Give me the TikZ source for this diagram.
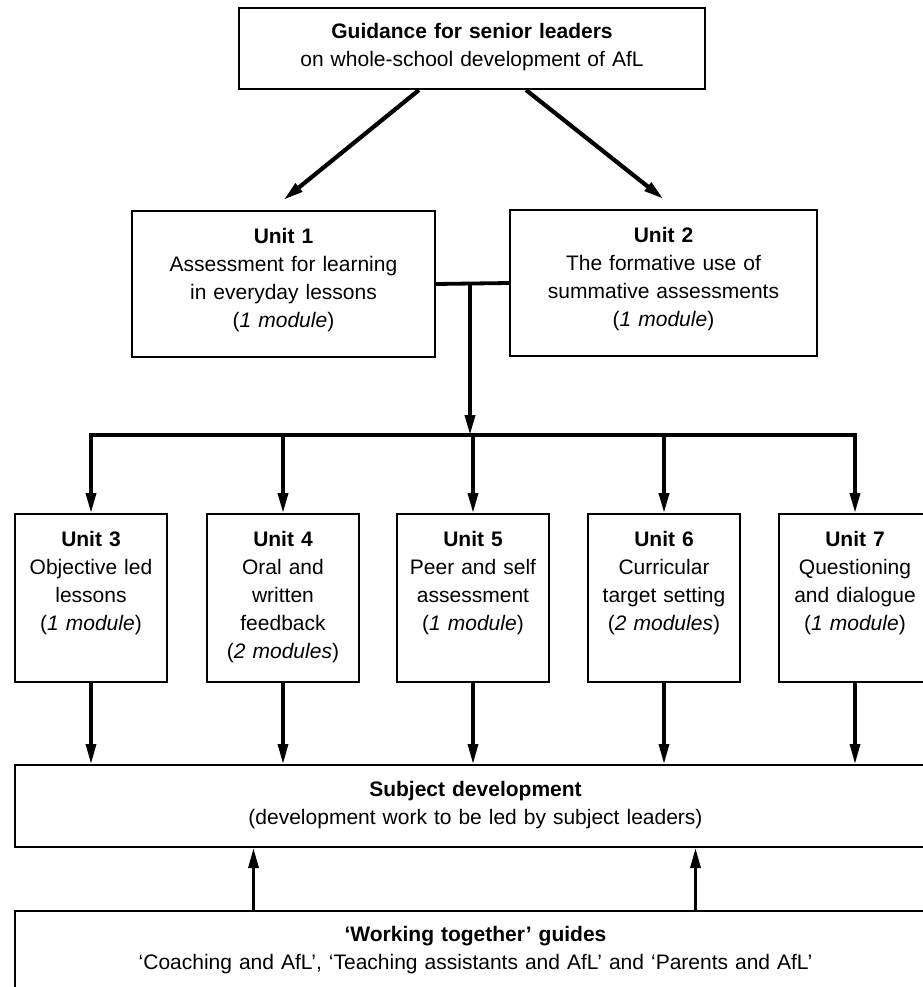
\documentclass[tikz,border=0pt]{standalone}
\usepackage{fontspec}
\setmainfont{Liberation Sans}
\usetikzlibrary{arrows.meta}

\begin{document}
\begin{tikzpicture}[x=1pt, y=-1pt,
    box_node/.style={draw, line width=2pt, inner sep=0pt, align=center, anchor=north west, font=\fontsize{21}{28}\selectfont},
    unit_node/.style={box_node, text width=152pt, text height=32pt, text depth=136pt},
    bus_line/.style={line width=3.8pt},
    main_arrow/.style={line width=3.6pt, -{Triangle[length=20pt,width=10pt]}}]

    \useasboundingbox (0,0) rectangle (922,987);

    \node[box_node, text width=466pt, text height=31pt, text depth=50pt] (g) at (238,7) {\textbf{Guidance for senior leaders}\\on whole-school development of AfL};

    \node[box_node, text width=303pt, text height=32pt, text depth=114pt] (u1) at (131,210) {\textbf{Unit 1}\\Assessment for learning\\in everyday lessons\\(\textit{1 module})};
    \node[box_node, text width=307pt, text height=32pt, text depth=114pt] (u2) at (509,209) {\textbf{Unit 2}\\The formative use of\\summative assessments\\(\textit{1 module})};

    \node[unit_node] (u3) at (14,513) {\textbf{Unit 3}\\Objective led\\lessons\\(\textit{1 module})};
    \node[unit_node] (u4) at (206,513) {\textbf{Unit 4}\\Oral and\\written\\feedback\\(\textit{2 modules})};
    \node[unit_node] (u5) at (396,513) {\textbf{Unit 5}\\Peer and self\\assessment\\(\textit{1 module})};
    \node[unit_node] (u6) at (587,513) {\textbf{Unit 6}\\Curricular\\target setting\\(\textit{2 modules})};
    \node[unit_node] (u7) at (778,513) {\textbf{Unit 7}\\Questioning\\and dialogue\\(\textit{1 module})};

    \node[box_node, text width=921pt, text height=31pt, text depth=51pt] (sd) at (14,764) {\textbf{Subject development}\\(development work to be led by subject leaders)};
    \node[box_node, text width=921pt, text height=30pt, text depth=80pt] (wt) at (14,910) {\textbf{‘Working together’ guides}\\‘Coaching and AfL’, ‘Teaching assistants and AfL’ and ‘Parents and AfL’};

    \coordinate (j) at (470,283);
    \coordinate (bj) at (470,435);
    \coordinate (b3) at (u3.north |- bj);
    \coordinate (b4) at (u4.north |- bj);
    \coordinate (b5) at (u5.north |- bj);
    \coordinate (b6) at (u6.north |- bj);
    \coordinate (b7) at (u7.north |- bj);

    \draw[main_arrow, line width=4.2pt] ([xshift=-53pt]g.south) -- ([yshift=10pt]u1.north);
    \draw[main_arrow, line width=4.2pt] ([xshift=54pt]g.south) -- ([yshift=10pt]u2.north);

    \draw[bus_line] (u1.east) -- (u2.west);
    \draw[main_arrow] (j) -- (bj);
    \draw[bus_line, line cap=rect] (b3) -- (b7);

    \draw[main_arrow] (b3) -- (u3.north);
    \draw[main_arrow] (b4) -- (u4.north);
    \draw[main_arrow] (b5) -- (u5.north);
    \draw[main_arrow] (b6) -- (u6.north);
    \draw[main_arrow] (b7) -- (u7.north);

    \draw[main_arrow, line width=3.2pt] (u3.south) -- (u3.south |- sd.north);
    \draw[main_arrow, line width=3.2pt] (u4.south) -- (u4.south |- sd.north);
    \draw[main_arrow, line width=3.2pt] (u5.south) -- (u5.south |- sd.north);
    \draw[main_arrow, line width=3.2pt] (u6.south) -- (u6.south |- sd.north);
    \draw[main_arrow, line width=3.2pt] (u7.south) -- (u7.south |- sd.north);

    \draw[main_arrow, line width=3.2pt] ([xshift=-222pt]wt.north) -- ([xshift=-222pt]sd.south);
    \draw[main_arrow, line width=3.2pt] ([xshift=220pt]wt.north) -- ([xshift=220pt]sd.south);

\end{tikzpicture}
\end{document}
